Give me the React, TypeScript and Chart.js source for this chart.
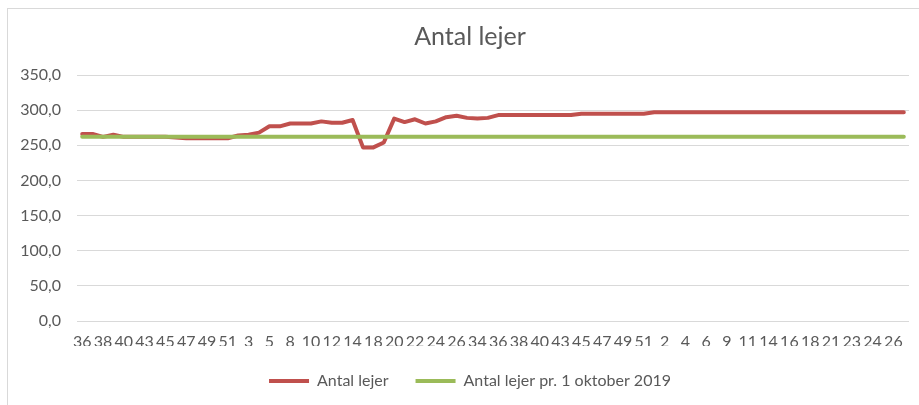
import React, { useEffect, useRef } from 'react';
import { Chart, registerables } from 'chart.js';

Chart.register(...registerables);

// Week numbers (category axis)
const weeks: string[] = [
  '36', '37', '38', '39', '40', '42', '43', '44', '45', '46',
  '47', '48', '49', '50', '51', '1', '3', '4', '5', '6',
  '8', '9', '10', '11', '12', '13', '14', '16', '18', '19',
  '20', '21', '22', '23', '24', '25', '26', '33', '34', '35',
  '36', '37', '38', '39', '40', '41', '43', '44', '45', '46',
  '47', '48', '49', '50', '51', '1', '2', '3', '4', '5',
  '6', '8', '9', '10', '11', '12', '14', '15', '16', '17',
  '18', '20', '21', '22', '23', '23', '24', '25', '26', '27',
];

// Series: Antal lejer
const antalLejer: number[] = [
  266, 266, 262, 265, 262, 262, 262, 262, 262, 261,
  260, 260, 260, 260, 260, 264, 265, 268, 277, 277,
  281, 281, 281, 284, 282, 282, 286, 247, 247, 254,
  288, 283, 287, 281, 284, 290, 292, 289, 288, 289,
  293, 293, 293, 293, 293, 293, 293, 293, 295, 295,
  295, 295, 295, 295, 295, 297, 297, 297, 297, 297,
  297, 297, 297, 297, 297, 297, 297, 297, 297, 297,
  297, 297, 297, 297, 297, 297, 297, 297, 297, 297,
];

// Series: Antal lejer pr. 1 oktober 2019
const antalLejerOkt2019: number[] = [
  262, 262, 262, 262, 262, 262, 262, 262, 262, 262,
  262, 262, 262, 262, 262, 262, 262, 262, 262, 262,
  262, 262, 262, 262, 262, 262, 262, 262, 262, 262,
  262, 262, 262, 262, 262, 262, 262, 262, 262, 262,
  262, 262, 262, 262, 262, 262, 262, 262, 262, 262,
  262, 262, 262, 262, 262, 262, 262, 262, 262, 262,
  262, 262, 262, 262, 262, 262, 262, 262, 262, 262,
  262, 262, 262, 262, 262, 262, 262, 262, 262, 262,
];

const seriesNames = ['Antal lejer', 'Antal lejer pr. 1 oktober 2019'];
const seriesColors = ['#C0504D', '#9BBB59'];
const chartTitle = 'Antal lejer';
const yMin = 0;
const yMax = 350;
const yStep = 50;

const textColor = '#595959';
const gridColor = '#d9d9d9';
const fontFamily = 'Lato, "Open Sans", sans-serif';

export default function App() {
  const ref = useRef<HTMLCanvasElement>(null);

  useEffect(() => {
    if (!ref.current) return;
    const chart = new Chart(ref.current, {
      type: 'line',
      data: {
        labels: weeks,
        datasets: [
          {
            label: seriesNames[0],
            data: antalLejer,
            borderColor: seriesColors[0],
            backgroundColor: seriesColors[0],
            borderWidth: 4,
            pointRadius: 0,
            tension: 0,
            borderCapStyle: 'round',
            borderJoinStyle: 'round',
            fill: false,
            order: 1,
          },
          {
            label: seriesNames[1],
            data: antalLejerOkt2019,
            borderColor: seriesColors[1],
            backgroundColor: seriesColors[1],
            borderWidth: 4,
            pointRadius: 0,
            tension: 0,
            borderCapStyle: 'round',
            borderJoinStyle: 'round',
            fill: false,
            order: 0,
          },
        ],
      },
      options: {
        responsive: false,
        animation: false,
        devicePixelRatio: 1,
        layout: { padding: { left: 0, right: 0, top: 0, bottom: 10 } },
        plugins: {
          title: {
            display: true,
            text: chartTitle,
            color: textColor,
            font: { family: fontFamily, size: 25, weight: 'normal' },
            padding: { top: 13, bottom: 23 },
          },
          legend: {
            display: true,
            position: 'bottom',
            labels: {
              color: textColor,
              font: { family: fontFamily, size: 16 },
              boxWidth: 40,
              boxHeight: 4,
              padding: 27,
              generateLabels: (c: any) =>
                c.data.datasets.map((ds: any, i: number) => ({
                  text: ds.label,
                  fillStyle: ds.borderColor,
                  strokeStyle: ds.borderColor,
                  lineWidth: 0,
                  hidden: false,
                  datasetIndex: i,
                  fontColor: textColor,
                })),
            },
          },
          tooltip: { enabled: false },
        },
        scales: {
          x: {
            type: 'category',
            offset: true,
            grid: { display: false, drawTicks: false, tickLength: 0 },
            border: { display: false },
            ticks: {
              autoSkip: false,
              maxRotation: 0,
              minRotation: 0,
              padding: 11,
              color: textColor,
              font: { family: fontFamily, size: 16 },
              callback: (_v: any, idx: number) => (idx % 2 === 0 ? weeks[idx] : ''),
            },
            afterFit: (s: any) => {
              s.height = 25;
            },
          },
          y: {
            position: 'left',
            min: yMin,
            max: yMax,
            grid: { color: gridColor, lineWidth: 1, drawTicks: false, tickLength: 0 },
            border: { display: false },
            ticks: {
              stepSize: yStep,
              padding: 16,
              color: textColor,
              font: { family: fontFamily, size: 16 },
              callback: (v: any) => Number(v).toFixed(1).replace('.', ','),
            },
            afterFit: (s: any) => {
              s.width = 69;
            },
          },
          yRight: {
            position: 'right',
            display: true,
            grid: { display: false, drawTicks: false, tickLength: 0 },
            border: { display: false },
            ticks: { display: false },
            afterFit: (s: any) => {
              s.width = 23;
            },
          },
        },
      },
    } as any);
    return () => chart.destroy();
  }, []);

  return (
    <div
      style={{
        position: 'fixed',
        left: 0,
        top: 0,
        width: 919,
        height: 405,
        overflow: 'hidden',
        background: '#ffffff',
      }}
    >
      <div
        style={{
          position: 'absolute',
          left: 7,
          top: 8,
          width: 940,
          height: 420,
          border: '1px solid #d9d9d9',
          background: '#ffffff',
        }}
      >
        <canvas
          ref={ref}
          width={924}
          height={400}
          style={{ display: 'block', width: 924, height: 400 }}
        />
      </div>
    </div>
  );
}
